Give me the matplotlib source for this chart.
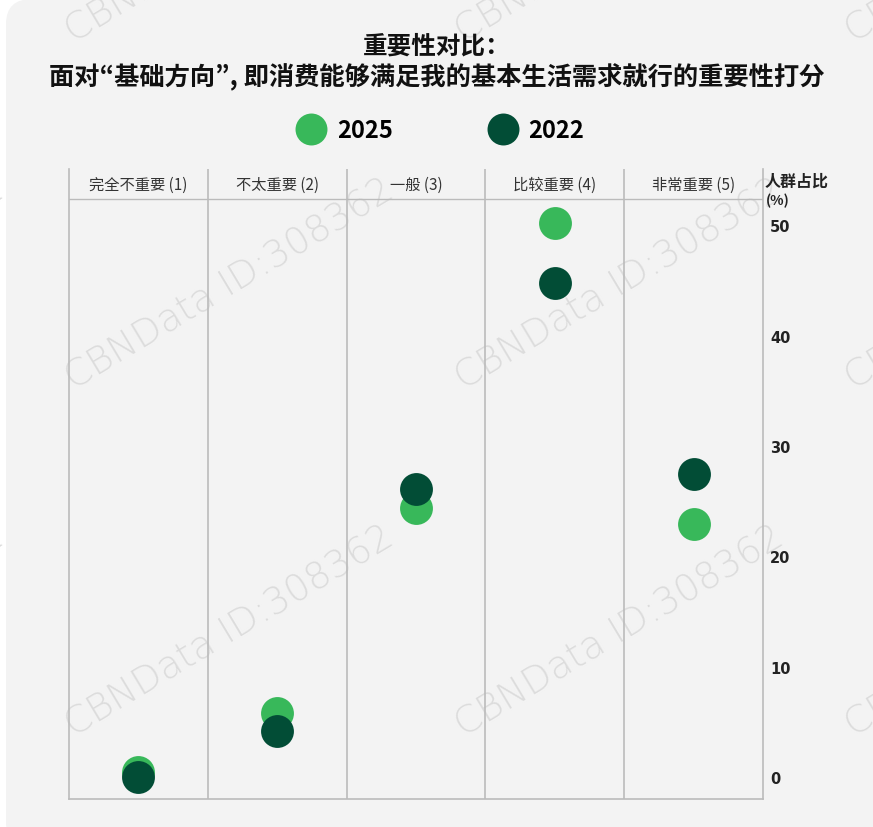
import matplotlib
matplotlib.use("Agg")
import matplotlib.pyplot as plt
from matplotlib.patches import FancyBboxPatch
from matplotlib.lines import Line2D

plt.rcParams['font.family'] = ['Noto Sans CJK SC', 'DejaVu Sans']

# score categories and share of respondents (%)
categories = ['完全不重要 (1)', '不太重要 (2)', '一般 (3)', '比较重要 (4)', '非常重要 (5)']
share_2025 = [0.5, 5.8, 24.4, 50.2, 22.9]
share_2022 = [0.0, 4.2, 26.1, 44.8, 27.5]
yticks = [0, 10, 20, 30, 40, 50]

c2025 = '#38b85a'
c2022 = '#024d36'
grid_c = '#bbbbbb'

W, H = 873, 828
fig = plt.figure(figsize=(W / 100, H / 100), dpi=100)
fig.patch.set_facecolor('white')

# rounded light panel behind the chart
panel = FancyBboxPatch((6 / W, -20 / H), (W + 30) / W, (H - 10 + 30) / H,
                       boxstyle='round,pad=0,rounding_size=0.03',
                       transform=fig.transFigure, facecolor='#f3f3f3',
                       edgecolor='none', zorder=-3)
fig.add_artist(panel)

# watermark grid
for cx in [-160, 230, 620, 1010]:
    for cy in [-62, 285, 632, 979]:
        fig.text(cx / W, 1 - cy / H, 'CBNData ID:308362', rotation=31,
                 ha='center', va='center', fontsize=27, color='#dcdcdc',
                 family='DejaVu Sans', fontweight='light', zorder=-1)

ax = fig.add_axes([69 / W, 28 / H, (763 - 69) / W, (800 - 170) / H])
ax.patch.set_alpha(0)

x = range(len(categories))
ax.scatter(x, share_2025, s=560, color=c2025, linewidths=0, zorder=3)
ax.scatter(x, share_2022, s=560, color=c2022, linewidths=0, zorder=4)

ax.set_xlim(-0.5, len(categories) - 0.5)
ax.set_ylim(-1.97, 55.1)

for i in range(1, len(categories)):
    ax.axvline(i - 0.5, color=grid_c, lw=1.2, zorder=1)
ax.axhline(52.4, color=grid_c, lw=1.0, zorder=1)

for i, cat in enumerate(categories):
    ax.text(i, 53.75, cat, ha='center', va='center', fontsize=11,
            color='#333333')

for side in ['left', 'bottom', 'right']:
    ax.spines[side].set_color(grid_c)
    ax.spines[side].set_linewidth(1.2)
ax.spines['top'].set_visible(False)

ax.set_xticks([])
ax.yaxis.tick_right()
ax.set_yticks(yticks)
ax.set_yticklabels([str(t) for t in yticks], family='DejaVu Sans',
                   fontweight='bold', fontsize=10.5, color='#222222')
ax.tick_params(axis='y', length=0, pad=5)

fig.text(765 / W, 1 - 182 / H, '人群占比', ha='left', va='center',
         fontsize=11.5, fontweight='bold', color='#222222')
fig.text(766 / W, 1 - 201 / H, '(%)', ha='left', va='center',
         fontsize=10, fontweight='bold', color='#222222')

fig.text(0.5, 1 - 47 / H, '重要性对比：', ha='center', va='center',
         fontsize=17.7, fontweight='bold', color='#111111')
# JP face keeps the curly quotes narrow
fig.text(0.5, 1 - 77 / H, '面对“基础方向”, 即消费能够满足我的基本生活需求就行的重要性打分',
         ha='center', va='center', fontsize=18.2, fontweight='bold',
         color='#111111', family=['Noto Sans CJK JP', 'Noto Sans CJK SC'])

handles = [Line2D([], [], marker='o', ls='none', markersize=23,
                  markerfacecolor=c2025, markeredgewidth=0),
           Line2D([], [], marker='o', ls='none', markersize=23,
                  markerfacecolor=c2022, markeredgewidth=0)]
fig.legend(handles, ['2025', '2022'], loc='center',
           bbox_to_anchor=(440 / W, 1 - 131 / H), ncol=2, frameon=False,
           prop={'size': 17, 'weight': 'bold'}, handlelength=1.3,
           handletextpad=0.45, columnspacing=4.0)

fig.savefig('out.png', dpi=100)
